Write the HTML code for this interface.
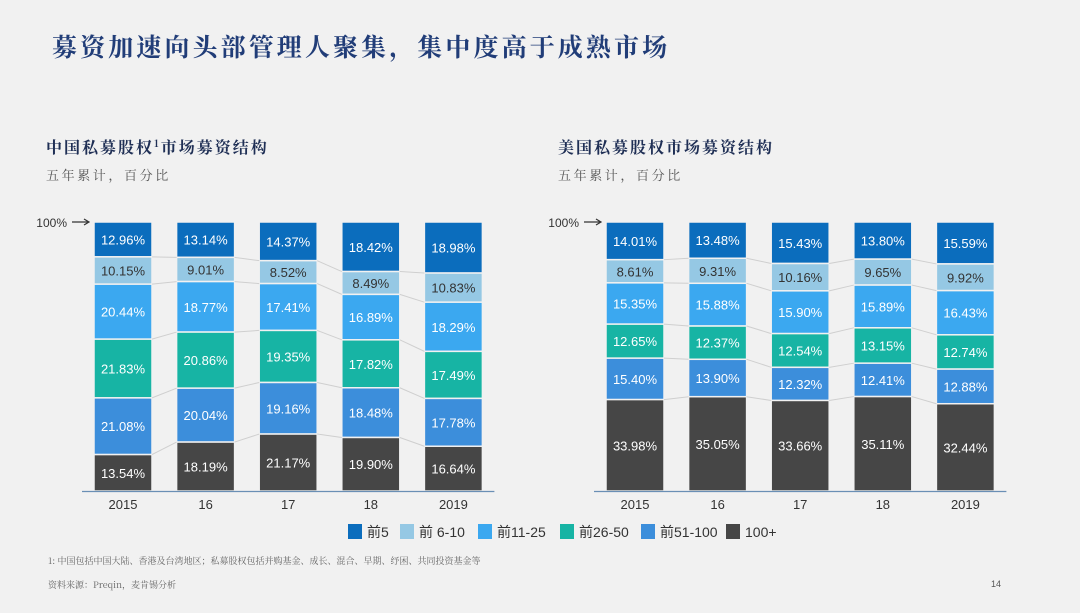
<!DOCTYPE html>
<html><head><meta charset="utf-8"><style>
body{margin:0;width:1080px;height:608px;background:#f1f1f1;overflow:hidden;font-family:"Liberation Sans","Noto Sans CJK SC",sans-serif;}
</style></head><body>
<svg width="1080" height="608" xmlns="http://www.w3.org/2000/svg" id="root">
<text x="52" y="56" font-size="25" letter-spacing="3.1" fill="#213d78" font-family="'Noto Serif CJK SC',serif" font-weight="bold">募资加速向头部管理人聚集，集中度高于成熟市场</text>
<text x="46" y="153" font-size="16" letter-spacing="2" fill="#1f2f55" font-family="'Noto Serif CJK SC',serif" font-weight="bold">中国私募股权<tspan font-size="10" dy="-6">1</tspan><tspan dy="6">市场募资结构</tspan></text>
<text x="46" y="180" font-size="13" letter-spacing="2.6" fill="#555" font-family="'Noto Serif CJK SC',serif">五年累计，百分比</text>
<text x="558" y="153" font-size="16" letter-spacing="2" fill="#1f2f55" font-family="'Noto Serif CJK SC',serif" font-weight="bold">美国私募股权市场募资结构</text>
<text x="558" y="180" font-size="13" letter-spacing="2.6" fill="#555" font-family="'Noto Serif CJK SC',serif">五年累计，百分比</text>
<g id="charts"></g>
<g id="legend"></g>
<text x="48" y="564" font-size="9" fill="#666" font-family="'Noto Serif CJK SC',serif">1: 中国包括中国大陆、香港及台湾地区；私募股权包括并购基金、成长、混合、早期、纾困、共同投资基金等</text>
<text x="48" y="588" font-size="9" fill="#666" font-family="'Noto Serif CJK SC',serif">资料来源：Preqin，麦肯锡分析</text>
<text x="991" y="587" font-size="9" fill="#555">14</text>
</svg>
<script>
const categories=["2015","16","17","18","2019"];
const seriesNames=["前5","前 6-10","前11-25","前26-50","前51-100","100+"];
const colors=["#0b6dbd","#95c8e4","#3ba8f0","#17b4a4","#3c8edb","#464646"];
const textColors=["#fff","#333","#fff","#fff","#fff","#fff"];
const chinaTop5=[12.96,13.14,14.37,18.42,18.98];
const china6to10=[10.15,9.01,8.52,8.49,10.83];
const china11to25=[20.44,18.77,17.41,16.89,18.29];
const china26to50=[21.83,20.86,19.35,17.82,17.49];
const china51to100=[21.08,20.04,19.16,18.48,17.78];
const china100plus=[13.54,18.19,21.17,19.90,16.64];
const usTop5=[14.01,13.48,15.43,13.80,15.59];
const us6to10=[8.61,9.31,10.16,9.65,9.92];
const us11to25=[15.35,15.88,15.90,15.89,16.43];
const us26to50=[12.65,12.37,12.54,13.15,12.74];
const us51to100=[15.40,13.90,12.32,12.41,12.88];
const us100plus=[33.98,35.05,33.66,35.11,32.44];
const NS="http://www.w3.org/2000/svg";
function mk(tag,attrs,parent){const e=document.createElementNS(NS,tag);for(const k in attrs)e.setAttribute(k,attrs[k]);parent.appendChild(e);return e;}
function drawChart(prefix,x0,series){
  const g=document.getElementById('charts');
  const top=222,bottom=491,pitch=82.6,bw=58;
  const xb=i=>x0+i*pitch;
  const bounds=[];
  categories.forEach((c,i)=>{
    const vals=series.map(s=>s[i]);const total=vals.reduce((a,b)=>a+b,0);
    const y=v=>bottom-(v/total)*(bottom-top);
    let cum=total;const b=[];
    vals.forEach((v,k)=>{
      const y1=y(cum),y2=y(cum-v);b.push(y2);
      const r=mk('rect',{x:xb(i),y:y1,width:bw,height:y2-y1,fill:colors[k],stroke:"#f1f1f1","stroke-width":1.5},g);
      
      
      const t=mk('text',{x:xb(i)+bw/2,y:(y1+y2)/2+5,"text-anchor":"middle","font-size":13,fill:textColors[k]},g);
      t.textContent=v.toFixed(2)+'%';
      
      
      cum-=v;
    });
    bounds.push(b);
    const xt=mk('text',{x:xb(i)+bw/2,y:509,"text-anchor":"middle","font-size":13,fill:"#333"},g);
    xt.textContent=c;
    
    
  });
  for(let i=0;i<categories.length-1;i++){
    for(let k=0;k<5;k++){
      const l=mk('line',{x1:xb(i)+bw,y1:bounds[i][k],x2:xb(i+1),y2:bounds[i+1][k],stroke:"#cfcfcf","stroke-width":1},g);
      
      
    }
  }
  const ax=mk('line',{x1:x0-12,y1:bottom+0.5,x2:x0+4*pitch+bw+12,y2:bottom+0.5,stroke:"#6a8fb5","stroke-width":1.2},g);
  
  
  const lab=mk('text',{x:x0-27,y:227,"text-anchor":"end","font-size":12,fill:"#333"},g);
  lab.textContent='100%';
  
  
  const ar=mk('path',{d:`M${x0-22} 222 H${x0-6} M${x0-10} 219 L${x0-5} 222 L${x0-10} 225`,stroke:"#333",fill:"none","stroke-width":1.2},g);
  
  
}
drawChart('china',94,[chinaTop5,china6to10,china11to25,china26to50,china51to100,china100plus]);
drawChart('us',606,[usTop5,us6to10,us11to25,us26to50,us51to100,us100plus]);
const lg=document.getElementById('legend');
const lx=[348,400,478,560,641,726];
seriesNames.forEach((n,k)=>{
  const r=mk('rect',{x:lx[k],y:524,width:14,height:15,fill:colors[k]},lg);
  
  
  const t=mk('text',{x:lx[k]+19,y:537,"font-size":14,fill:"#333"},lg);
  t.textContent=n;
  
  
});
</script>
</body></html>
